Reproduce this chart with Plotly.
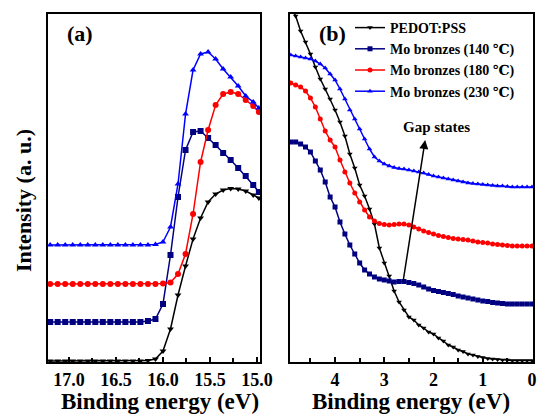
import plotly.graph_objects as go

# ---------------- data: panel (a) ----------------
x_a = [17.20, 17.12, 17.04, 16.96, 16.88, 16.80, 16.72, 16.64, 16.56, 16.48,
       16.40, 16.32, 16.24, 16.16, 16.08, 16.00, 15.92, 15.84, 15.76, 15.68,
       15.60, 15.52, 15.44, 15.36, 15.28, 15.20, 15.12, 15.04, 14.98]
a_pedot = [1, 1, 1, 1, 1, 1, 1, 1, 1, 1,
           1, 1, 1, 1.5, 3, 11, 33, 67, 96, 123,
           144, 160, 168, 172, 173.5, 173, 171, 167, 164]
a_140 = [40, 40, 40, 40, 40, 40, 40, 40, 40, 40,
         40, 40, 40, 41, 43, 58, 107, 165, 212, 230,
         231, 224, 217, 209, 202, 194, 186, 177, 170]
a_180 = [78, 78, 78, 78, 78, 78, 78, 78, 78, 78,
         78, 78, 78, 78, 78, 78.5, 79.5, 88, 108, 148,
         200, 232, 257, 268, 270, 268, 262, 256, 250]
a_230 = [117, 117, 117, 117, 117, 117, 117, 117, 117, 117,
         117, 117, 117, 117, 117.5, 120, 135, 178, 248, 292,
         308, 310, 303, 293, 285, 276, 266, 260, 254]

# ---------------- data: panel (b) ----------------
x_b = [4.9, 4.8, 4.7, 4.6, 4.5, 4.4, 4.3, 4.2, 4.1, 4.0,
       3.9, 3.8, 3.7, 3.6, 3.5, 3.4, 3.3, 3.2, 3.1, 3.0,
       2.9, 2.8, 2.7, 2.6, 2.5, 2.4, 2.3, 2.2, 2.1, 2.0,
       1.9, 1.8, 1.7, 1.6, 1.5, 1.4, 1.3, 1.2, 1.1, 1.0,
       0.9, 0.8, 0.7, 0.6, 0.5, 0.4, 0.3, 0.2, 0.1, 0.0]
b_pedot = [356, 346, 331, 320, 308, 295, 283, 273, 263, 252,
           240, 226, 208, 194, 177, 166, 153, 138, 114, 99,
           86, 71, 60, 52, 45, 42, 37, 34, 30, 28,
           24, 21, 17, 15, 12, 10.5, 8, 7, 5.5, 4.5,
           3.5, 3, 2.5, 2, 2, 1.5, 1.5, 1.5, 1.5, 1.5]
b_140 = [220, 220, 218, 215, 210, 201, 192, 180, 165, 155,
         140, 128, 117, 108, 99, 92, 88, 85, 83, 82,
         81, 80, 80.5, 80.5, 79.5, 78.5, 77, 75, 73, 71.5,
         70.5, 69.5, 68.5, 67.5, 66, 65, 64, 63, 62, 61,
         60.5, 59.5, 59, 58.5, 58, 58, 58, 58, 58, 58]
b_180 = [279, 277, 275, 271, 264, 255, 243, 231, 222, 215,
         202, 190, 179, 169, 160, 152, 145, 141, 138.5, 137.5,
         137, 137.5, 138, 138, 137, 135, 133, 131, 129.5, 128,
         126.5, 125.5, 124.5, 123.5, 123, 122.5, 122, 121, 120, 119.5,
         119, 118, 117.5, 117, 116.5, 116, 116, 116, 116, 116]
b_230 = [307, 306, 305, 304, 303, 301, 298, 294, 288, 282,
         273, 263, 252, 243, 233, 223, 213, 205, 201, 198,
         196, 194.5, 193.5, 193, 192, 191, 190, 189, 187.5, 186,
         185, 184, 183, 182, 181, 180, 179, 178.5, 178, 177.5,
         177, 176.5, 176, 176, 175.5, 175, 175, 175, 175, 175]

names = ["PEDOT:PSS", "Mo bronzes (140 \u2103)", "Mo bronzes (180 \u2103)", "Mo bronzes (230 \u2103)"]
colors = ["#000000", "#000080", "#ff0000", "#0000ff"]
symbols = ["triangle-down", "square", "circle", "triangle-up"]

FONT = "Times New Roman, Liberation Serif, DejaVu Serif, serif"

fig = go.Figure()

series_a = [a_pedot, a_140, a_180, a_230]
series_b = [b_pedot, b_140, b_180, b_230]

for i in range(4):
    fig.add_trace(go.Scatter(
        x=x_a, y=series_a[i], mode="lines+markers", name=names[i],
        line=dict(color=colors[i], width=1.5),
        marker=dict(symbol=symbols[i], size=6, color=colors[i]),
        xaxis="x", yaxis="y", showlegend=False, cliponaxis=True))
for i in range(4):
    fig.add_trace(go.Scatter(
        x=x_b, y=series_b[i], mode="lines+markers", name=names[i],
        line=dict(color=colors[i], width=1.5),
        marker=dict(symbol=symbols[i], size=5, color=colors[i]),
        xaxis="x2", yaxis="y2", showlegend=True, cliponaxis=True))

axis_common = dict(showline=True, linecolor="black", linewidth=2, mirror=True,
                   showgrid=False, zeroline=False, ticks="inside", ticklen=5,
                   tickwidth=1.5, tickcolor="black", automargin=False,
                   tickfont=dict(family=FONT, size=18, color="black", weight="bold"))

yaxis_common = dict(domain=[1-362/418, 1-14/418], range=[0, 348], showticklabels=False,
                    showline=True, linecolor="black", linewidth=2, mirror=True,
                    showgrid=False, zeroline=False, ticks="", automargin=False)

fig.update_layout(
    width=538, height=418,
    font=dict(family=FONT, color="black"),
    margin=dict(l=0, r=0, t=0, b=0, autoexpand=False),
    paper_bgcolor="white", plot_bgcolor="white",
    xaxis=dict(domain=[48/538, 260/538], range=[17.223, 14.968],
               tickvals=[17.0, 16.5, 16.0, 15.5, 15.0], ticktext=["17.0", "16.5", "16.0", "15.5", "15.0"],
               minor=dict(dtick=0.25, ticks="inside", ticklen=4, tickcolor="black"),
               anchor="y", **axis_common),
    yaxis=dict(anchor="x", **yaxis_common),
    xaxis2=dict(domain=[290/538, 533/538], range=[4.915, -0.02],
                tickvals=[4, 3, 2, 1, 0],
                minor=dict(dtick=0.5, ticks="inside", ticklen=4, tickcolor="black"),
                anchor="y2", **axis_common),
    yaxis2=dict(anchor="x2", **yaxis_common),
    legend=dict(x=350/538, y=1-12/418, xanchor="left", yanchor="top",
                bgcolor="rgba(0,0,0,0)", tracegroupgap=0,
                font=dict(family=FONT, size=14, color="black", weight="bold")),
    showlegend=True,
)

ann = []
ann.append(dict(text="(a)", x=65/538, y=1-33/418, xref="paper", yref="paper",
                xanchor="left", yanchor="middle", showarrow=False,
                font=dict(family=FONT, size=22, color="black", weight="bold")))
ann.append(dict(text="(b)", x=317/538, y=1-33/418, xref="paper", yref="paper",
                xanchor="left", yanchor="middle", showarrow=False,
                font=dict(family=FONT, size=22, color="black", weight="bold")))
ann.append(dict(text="Binding energy (eV)", x=160/538, y=1-401/418, xref="paper", yref="paper",
                xanchor="center", yanchor="middle", showarrow=False,
                font=dict(family=FONT, size=23, color="black", weight="bold")))
ann.append(dict(text="Binding energy (eV)", x=411/538, y=1-401/418, xref="paper", yref="paper",
                xanchor="center", yanchor="middle", showarrow=False,
                font=dict(family=FONT, size=23, color="black", weight="bold")))
ann.append(dict(text="Intensity (a. u.)", x=23/538, y=1-201/418, xref="paper", yref="paper",
                xanchor="center", yanchor="middle", showarrow=False, textangle=-90,
                font=dict(family=FONT, size=22, color="black", weight="bold")))
ann.append(dict(text="Gap states", x=1.93, y=362-127, xref="x2", yref="y2",
                xanchor="center", yanchor="middle", showarrow=False,
                font=dict(family=FONT, size=15, color="black", weight="bold")))
ann.append(dict(text="", x=2.17, y=222, ax=2.62, ay=80, xref="x2", yref="y2",
                axref="x2", ayref="y2", showarrow=True, arrowhead=2, arrowsize=1.2,
                arrowwidth=1.5, arrowcolor="black"))
fig.update_layout(annotations=ann)

fig.write_html("out.html")
